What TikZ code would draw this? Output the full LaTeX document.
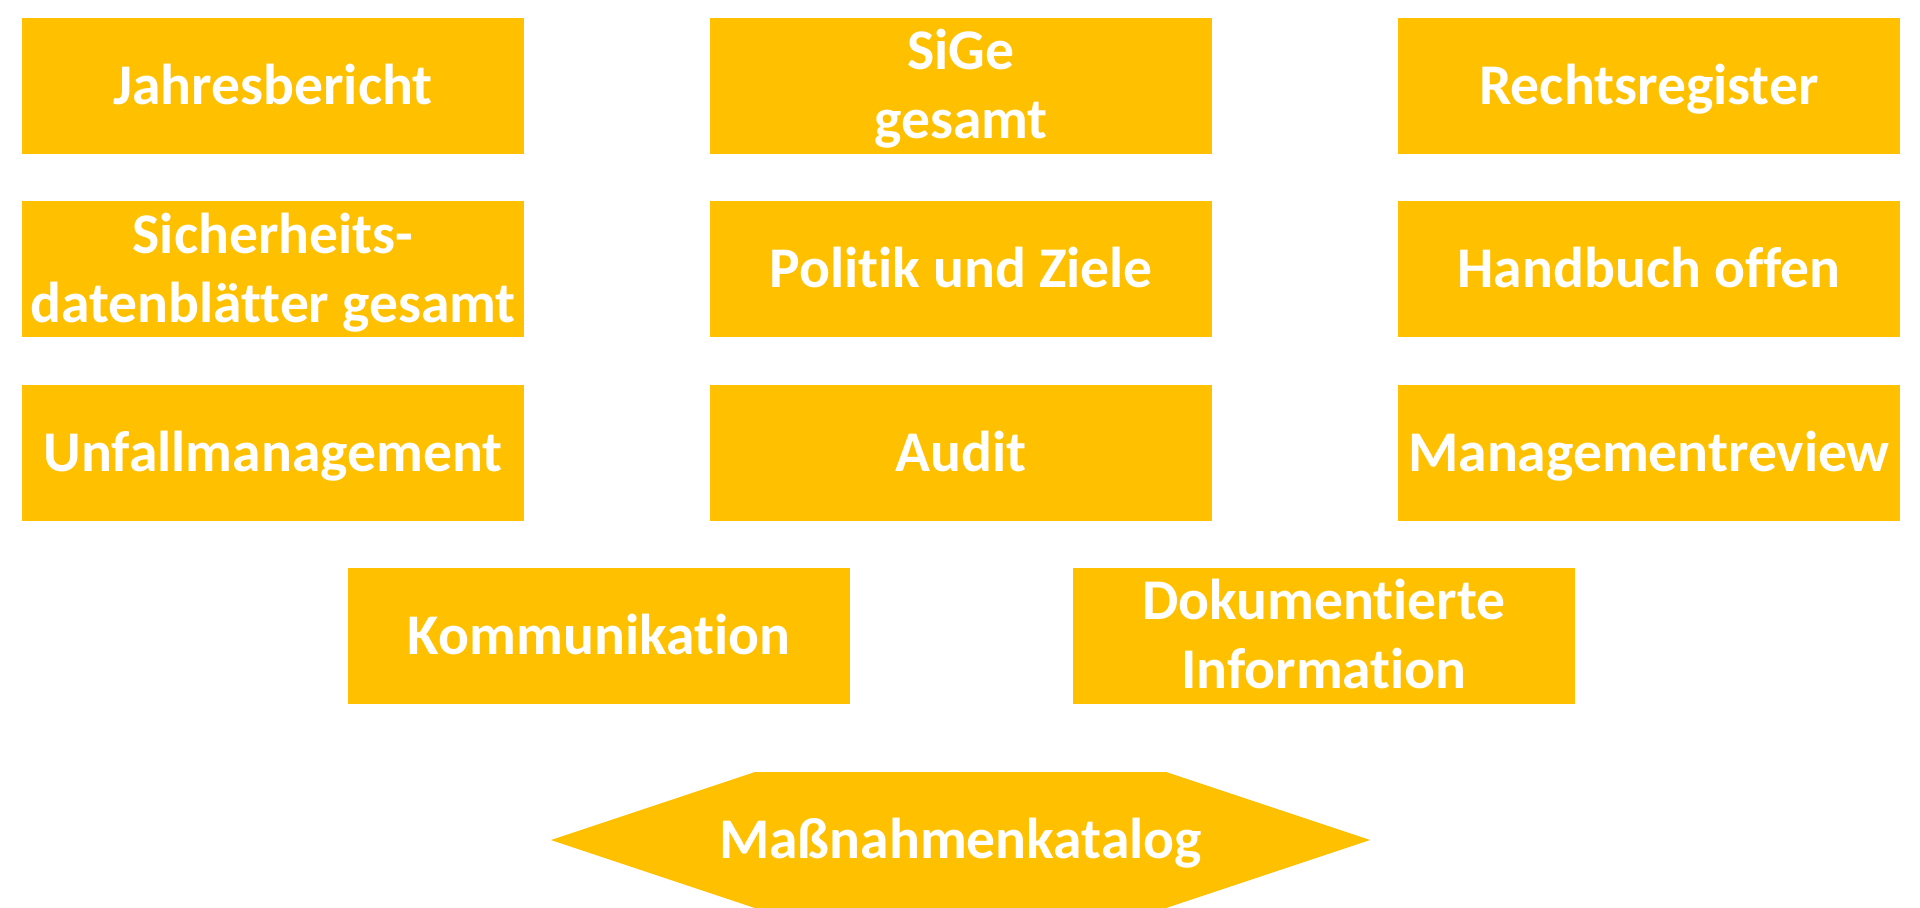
\documentclass[tikz,border=0pt]{standalone}
\usepackage{fontspec}
\setmainfont{Carlito}[Ligatures=NoCommon]
\definecolor{gold}{HTML}{FFC000}
\begin{document}
\begin{tikzpicture}[x=0.5pt,y=-0.5pt,
  txt/.style={text=white, font=\bfseries\fontsize{28.8pt}{34.5pt}\selectfont, align=center, inner sep=0pt, text height=20pt, text depth=1.7pt},
  tile/.style={txt, fill=gold, minimum width=251pt, minimum height=68pt},
  tiletwo/.style={tile, text height=54.5pt}]
\useasboundingbox (0,0) rectangle (1920,908);
% row 1
\node[tile] (jb) at (273,86) {Jahresbericht};
\node[tiletwo] (sg) at (961,86) {SiGe\\gesamt};
\node[tile] (rr) at (1649,86) {Rechtsregister};
% row 2
\node[tiletwo] (sd) at (273,269.5) {Sicherheits-\\datenblätter gesamt};
\node[tile] (pz) at (961,269.5) {Politik und Ziele};
\node[tile] (ho) at (1649,269.5) {Handbuch offen};
% row 3
\node[tile] (um) at (273,453) {Unfallmanagement};
\node[tile] (au) at (961,453) {Audit};
\node[tile] (mr) at (1649,453) {Managementreview};
% row 4
\node[tile] (ko) at (599,636) {Kommunikation};
\node[tiletwo] (di) at (1324,636) {Dokumentierte\\Information};
% hexagon
\fill[gold] (551,840) -- (755,772) -- (1166,772) -- (1370,840) -- (1166,908) -- (755,908) -- cycle;
\node[txt] (mk) at (960.5,840) {Maßnahmenkatalog};
\end{tikzpicture}
\end{document}
